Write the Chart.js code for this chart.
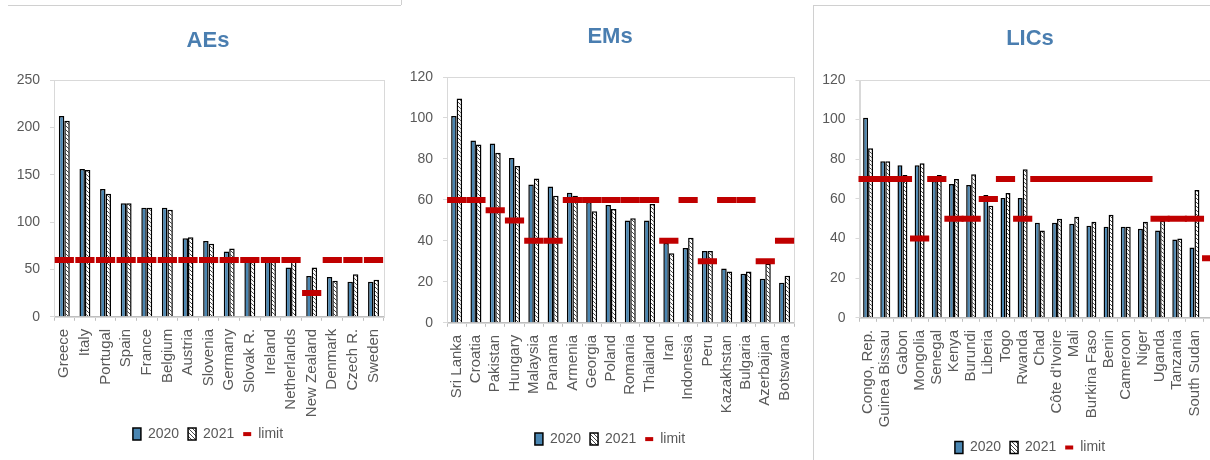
<!DOCTYPE html>
<html>
<head>
<meta charset="utf-8">
<script src="https://cdn.jsdelivr.net/npm/chart.js@4.4.1/dist/chart.umd.min.js"></script>
<style>
  html, body { margin: 0; padding: 0; background: #fff; width: 1210px; height: 460px; overflow: hidden; position: relative; }
  .box { position: absolute; top: 0; height: 480px; }
  .line-top1 { position: absolute; left: 8px; top: 5px; width: 393px; border-top: 1px solid #d0d0d0; }
  .line-tick1 { position: absolute; left: 401px; top: 0; height: 5px; border-left: 1px solid #d0d0d0; }
  .frame3 { position: absolute; left: 813px; top: 5px; width: 420px; height: 470px; border-left: 1px solid #d0d0d0; border-top: 1px solid #d0d0d0; }
</style>
</head>
<body>
<div class="line-top1"></div>
<div class="line-tick1"></div>
<div class="frame3"></div>
<div class="box" style="left:0;width:400px"><canvas id="chartAE"></canvas></div>
<div class="box" style="left:400px;width:411px"><canvas id="chartEM"></canvas></div>
<div class="box" style="left:814px;width:424px"><canvas id="chartLIC"></canvas></div>
<script>
// data AEs
var aeLabels = ['Greece', 'Italy', 'Portugal', 'Spain', 'France', 'Belgium', 'Austria', 'Slovenia', 'Germany', 'Slovak R.', 'Ireland', 'Netherlands', 'New Zealand', 'Denmark', 'Czech R.', 'Sweden'];
var ae2020 = [212, 156, 135, 120, 115, 115, 83, 80, 69, 59, 60, 52, 43, 42, 37, 37];
var ae2021 = [207, 155, 130, 120, 115, 113, 84, 77, 72, 58, 58, 59, 52, 38, 45, 39];
var aeLimit = [60, 60, 60, 60, 60, 60, 60, 60, 60, 60, 60, 60, 25, 60, 60, 60];
var aeTicks = [0, 50, 100, 150, 200, 250];

// data EMs
var emLabels = ['Sri Lanka', 'Croatia', 'Pakistan', 'Hungary', 'Malaysia', 'Panama', 'Armenia', 'Georgia', 'Poland', 'Romania', 'Thailand', 'Iran', 'Indonesia', 'Peru', 'Kazakhstan', 'Bulgaria', 'Azerbaijan', 'Botswana'];
var em2020 = [101, 89, 87.5, 80.5, 67.5, 66.5, 63.5, 59, 57.5, 50, 50, 39, 36.5, 35, 26.5, 24, 21.5, 19.5];
var em2021 = [109.5, 87, 83, 76.5, 70.5, 62, 62, 54.5, 55.5, 51, 58, 34, 41.5, 35, 25, 25, 29, 23];
var emLimit = [60, 60, 55, 50, 40, 40, 60, 60, 60, 60, 60, 40, 60, 30, 60, 60, 30, 40];
var emTicks = [0, 20, 40, 60, 80, 100, 120];

// data LICs (last category is cut off at the picture edge)
var licLabels = ['Congo, Rep.', 'Guinea Bissau', 'Gabon', 'Mongolia', 'Senegal', 'Kenya', 'Burundi', 'Liberia', 'Togo', 'Rwanda', 'Chad', "Côte d'Ivoire", 'Mali', 'Burkina Faso', 'Benin', 'Cameroon', 'Niger', 'Uganda', 'Tanzania', 'South Sudan', ''];
var lic2020 = [101, 79, 77, 77, 69, 67.5, 67, 62, 60.5, 60.5, 48, 48, 47.5, 46.5, 46, 46, 45, 44, 39.5, 35.5, null];
var lic2021 = [85.5, 79, 72, 78, 72, 70, 72.5, 56.5, 63, 75, 44, 50, 51, 48.5, 52, 46, 48.5, 49, 40, 64.5, null];
var licLimit = [70, 70, 70, 40, 70, 50, 50, 60, 70, 50, 70, 70, 70, 70, 70, 70, 70, 50, 50, 50, 30];
var licTicks = [0, 20, 40, 60, 80, 100, 120];

var blue = '#4a86b2';
var red = '#c00000';
var grey = '#595959';

// diagonal hatch for 2021
function hatch() {
  var c = document.createElement('canvas');
  c.width = 4; c.height = 4;
  var g = c.getContext('2d');
  g.fillStyle = '#fff';
  g.fillRect(0, 0, 4, 4);
  g.strokeStyle = '#333';
  g.lineWidth = 0.9;
  g.beginPath();
  g.moveTo(0, 0); g.lineTo(4, 4);
  g.moveTo(-1, 3); g.lineTo(1, 5);
  g.moveTo(3, -1); g.lineTo(5, 1);
  g.stroke();
  return g.createPattern(c, 'repeat');
}

// plot frame (top and right edges)
var framePlugin = {
  id: 'frame',
  beforeDatasetsDraw: function(chart) {
    var a = chart.chartArea, c = chart.ctx;
    c.save();
    c.strokeStyle = '#d9d9d9';
    c.lineWidth = 1;
    c.strokeRect(Math.round(a.left) + 0.5, Math.round(a.top) + 0.5, Math.round(a.right - a.left), Math.round(a.bottom - a.top));
    c.restore();
  }
};

function makeChart(id, title, labels, v2020, v2021, limit, ticks, cfg) {
  var ctx = document.getElementById(id).getContext('2d');
  return new Chart(ctx, {
    type: 'bar',
    data: {
      labels: labels,
      datasets: [{
        label: '2020',
        data: v2020,
        backgroundColor: blue,
        borderColor: '#000',
        borderWidth: 1.5,
        pointStyle: 'rect',
        order: 1
      }, {
        label: '2021',
        data: v2021,
        backgroundColor: hatch(),
        borderColor: '#000',
        borderWidth: 1.5,
        pointStyle: 'rect',
        order: 1
      }, {
        type: 'line',
        label: 'limit',
        data: limit,
        showLine: false,
        pointStyle: 'line',
        pointRadius: 9.6,
        pointHoverRadius: 9.6,
        pointBorderWidth: 6,
        pointBorderColor: red,
        borderColor: red,
        backgroundColor: red,
        order: 0
      }]
    },
    options: {
      responsive: true,
      maintainAspectRatio: false,
      animation: false,
      layout: { padding: { left: cfg.padLeft, right: 0, top: 0, bottom: cfg.padBottom } },
      datasets: { bar: { barPercentage: 1, categoryPercentage: cfg.catPct } },
      plugins: {
        title: {
          display: true,
          text: title,
          color: '#4a7eb0',
          font: { family: "'Liberation Sans', sans-serif", size: 22, weight: 'bold' },
          padding: { top: cfg.titleTop, bottom: cfg.titleBottom }
        },
        legend: {
          position: 'bottom',
          labels: {
            usePointStyle: true,
            pointStyleWidth: 8,
            boxHeight: 12,
            padding: 9,
            color: grey,
            font: { family: "'Liberation Sans', sans-serif", size: 14 },
            generateLabels: function(chart) {
              var items = Chart.defaults.plugins.legend.labels.generateLabels(chart);
              items.forEach(function(it) { if (it.text === 'limit') it.lineWidth = 4; });
              return items;
            },
            sort: function(a, b) { return a.datasetIndex - b.datasetIndex; }
          }
        },
        tooltip: { enabled: false }
      },
      scales: {
        x: {
          grid: { display: true, drawOnChartArea: false, offset: true, tickLength: 4, color: '#bfbfbf' },
          border: { color: '#bfbfbf' },
          ticks: {
            autoSkip: false,
            maxRotation: 90,
            minRotation: 90,
            padding: 8,
            color: grey,
            font: { family: "'Liberation Sans', sans-serif", size: 15 }
          },
          afterFit: function(scale) { scale.height = cfg.xHeight; }
        },
        y: {
          min: 0,
          max: ticks[ticks.length - 1],
          afterBuildTicks: function(scale) {
            scale.ticks = ticks.map(function(v) { return { value: v }; });
          },
          grid: { display: true, drawOnChartArea: false, tickLength: 4, color: '#d9d9d9' },
          border: { color: '#d9d9d9' },
          ticks: {
            padding: 10,
            color: grey,
            font: { family: "'Liberation Sans', sans-serif", size: 14 }
          },
          afterFit: function(scale) { scale.width = cfg.yWidth; }
        },
        // empty box on the right, keeps title and legend centred like the original
        yRight: {
          position: 'right',
          display: true,
          grid: { display: false },
          border: { display: false },
          ticks: { display: false },
          afterFit: function(scale) { scale.width = cfg.rightGap; }
        }
      }
    },
    plugins: [framePlugin]
  });
}

makeChart('chartAE', 'AEs', aeLabels, ae2020, ae2021, aeLimit, aeTicks,
  { padLeft: 16, padBottom: 28.9, yWidth: 38, rightGap: 14, xHeight: 101.3, titleTop: 27.3, titleBottom: 26.3, catPct: 0.53 });
makeChart('chartEM', 'EMs', emLabels, em2020, em2021, emLimit, emTicks,
  { padLeft: 9, padBottom: 23.9, yWidth: 38, rightGap: 15, xHeight: 100.3, titleTop: 23.3, titleBottom: 27.3, catPct: 0.57 });
makeChart('chartLIC', 'LICs', licLabels, lic2020, lic2021, licLimit, licTicks,
  { padLeft: 8, padBottom: 15.6, yWidth: 37.5, rightGap: 13.2, xHeight: 113.6, titleTop: 26.1, titleBottom: 27.5, catPct: 0.58 });
</script>
</body>
</html>
